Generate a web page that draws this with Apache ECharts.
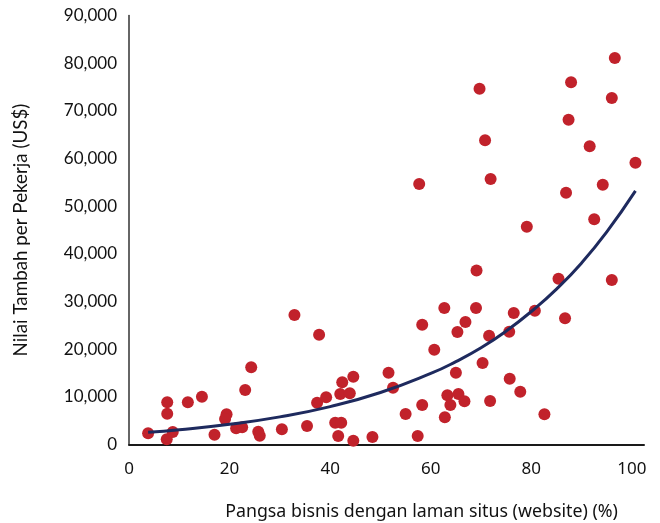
<!DOCTYPE html>
<html>
<head>
<meta charset="utf-8">
<script src="https://cdn.jsdelivr.net/npm/echarts@6/dist/echarts.min.js"></script>
<style>
  html, body { margin: 0; padding: 0; background: #ffffff; }
  #chart { width: 660px; height: 523px; }
</style>
</head>
<body>
<div id="chart"></div>
<script>
// Share of businesses with a website (%)
const websiteShare = [3.8, 7.6, 7.6, 7.5, 8.7, 11.7, 14.5, 17.0, 19.4, 19.1,
  21.3, 22.5, 23.1, 24.3, 25.7, 26.0, 30.4, 32.9, 35.4, 37.8,
  37.4, 39.2, 41.0, 42.2, 41.6, 42.0, 43.9, 42.4, 44.6, 44.6,
  48.4, 51.6, 52.5, 55.0, 57.4, 57.7, 58.3, 58.3, 60.7, 62.7,
  62.8, 63.3, 63.9, 65.0, 65.3, 65.5, 66.7, 66.9, 69.0, 69.1,
  69.7, 70.3, 70.8, 71.6, 71.8, 71.9, 75.6, 75.7, 76.5, 77.8,
  79.1, 80.7, 82.6, 85.4, 86.7, 86.9, 87.4, 87.9, 91.6, 92.5,
  94.2, 96.0, 96.0, 96.6, 100.7];
// Value added per worker (US$)
const valueAdded = [2350, 8850, 6460, 1090, 2620, 8850, 10030, 2060, 6340, 5350,
  3400, 3610, 11430, 16200, 2690, 1850, 3190, 27170, 3880, 23040,
  8770, 9900, 4570, 4570, 1780, 10590, 10740, 13050, 14220, 800,
  1570, 15060, 11920, 6400, 1780, 54650, 25130, 8290, 19890, 28640,
  5710, 10320, 8290, 15060, 23600, 10590, 9060, 25700, 28640, 36500,
  74640, 17100, 63820, 22830, 9130, 55700, 23660, 13800, 27590, 11080,
  45690, 28070, 6340, 34780, 26480, 52830, 68140, 75990, 62560, 47250,
  54500, 34510, 72690, 81080, 59120];
// Exponential trend line
const trendX = [3.8, 10, 20, 30, 40, 50, 60, 65, 70, 75, 80, 85, 90, 95, 100.7];
const trendY = [2560, 3100, 4250, 5800, 7950, 10900, 14900, 17400, 20300, 23800, 27900, 32600, 38100, 44600, 53200];

const xTicks = [0, 20, 40, 60, 80, 100];

const points = websiteShare.map((x, i) => [x, valueAdded[i]]);
const trend = trendX.map((x, i) => [x, trendY[i]]);

const chart = echarts.init(document.getElementById('chart'), null, { renderer: 'canvas' });
chart.setOption({
  animation: false,
  backgroundColor: '#ffffff',
  grid: { left: 129, right: 16, top: 15.5, bottom: 78.5, containLabel: false, outerBoundsMode: 'none' },
  xAxis: {
    type: 'value',
    min: 0,
    max: 102.4,
    interval: 20,
    name: 'Pangsa bisnis dengan laman situs (website) (%)',
    nameLocation: 'middle',
    nameGap: 58,
    nameTextStyle: { fontFamily: 'Noto Sans', fontSize: 17.8, color: '#111', padding: [0, 0, 0, 70] },
    axisLine: { show: true, lineStyle: { color: '#1a1a1a', width: 2 } },
    axisTick: { show: false },
    splitLine: { show: false },
    axisLabel: {
      showMaxLabel: false,
      margin: 16,
      fontFamily: 'Noto Sans', fontSize: 17, color: '#111',
      formatter: v => (xTicks.indexOf(v) >= 0 ? String(v) : '')
    }
  },
  yAxis: {
    type: 'value',
    min: 0,
    max: 90000,
    interval: 10000,
    name: 'Nilai Tambah per Pekerja (US$)',
    nameLocation: 'middle',
    nameGap: 99,
    nameTextStyle: { fontFamily: 'Lato', fontSize: 18.8, color: '#111' },
    axisLine: { show: true, lineStyle: { color: '#333', width: 1.5 } },
    axisTick: { show: false },
    splitLine: { show: false },
    axisLabel: {
      margin: 12,
      fontFamily: 'Lato', fontSize: 17, color: '#111',
      formatter: v => v.toLocaleString('en-US')
    }
  },
  series: [
    {
      type: 'scatter',
      data: points,
      symbol: 'circle',
      symbolSize: 12,
      itemStyle: { color: '#C1222B', opacity: 1 },
      z: 2
    },
    {
      type: 'line',
      data: trend,
      smooth: true,
      showSymbol: false,
      symbol: 'none',
      lineStyle: { color: '#1E2A5E', width: 3 },
      z: 3
    }
  ]
});
</script>
</body>
</html>
